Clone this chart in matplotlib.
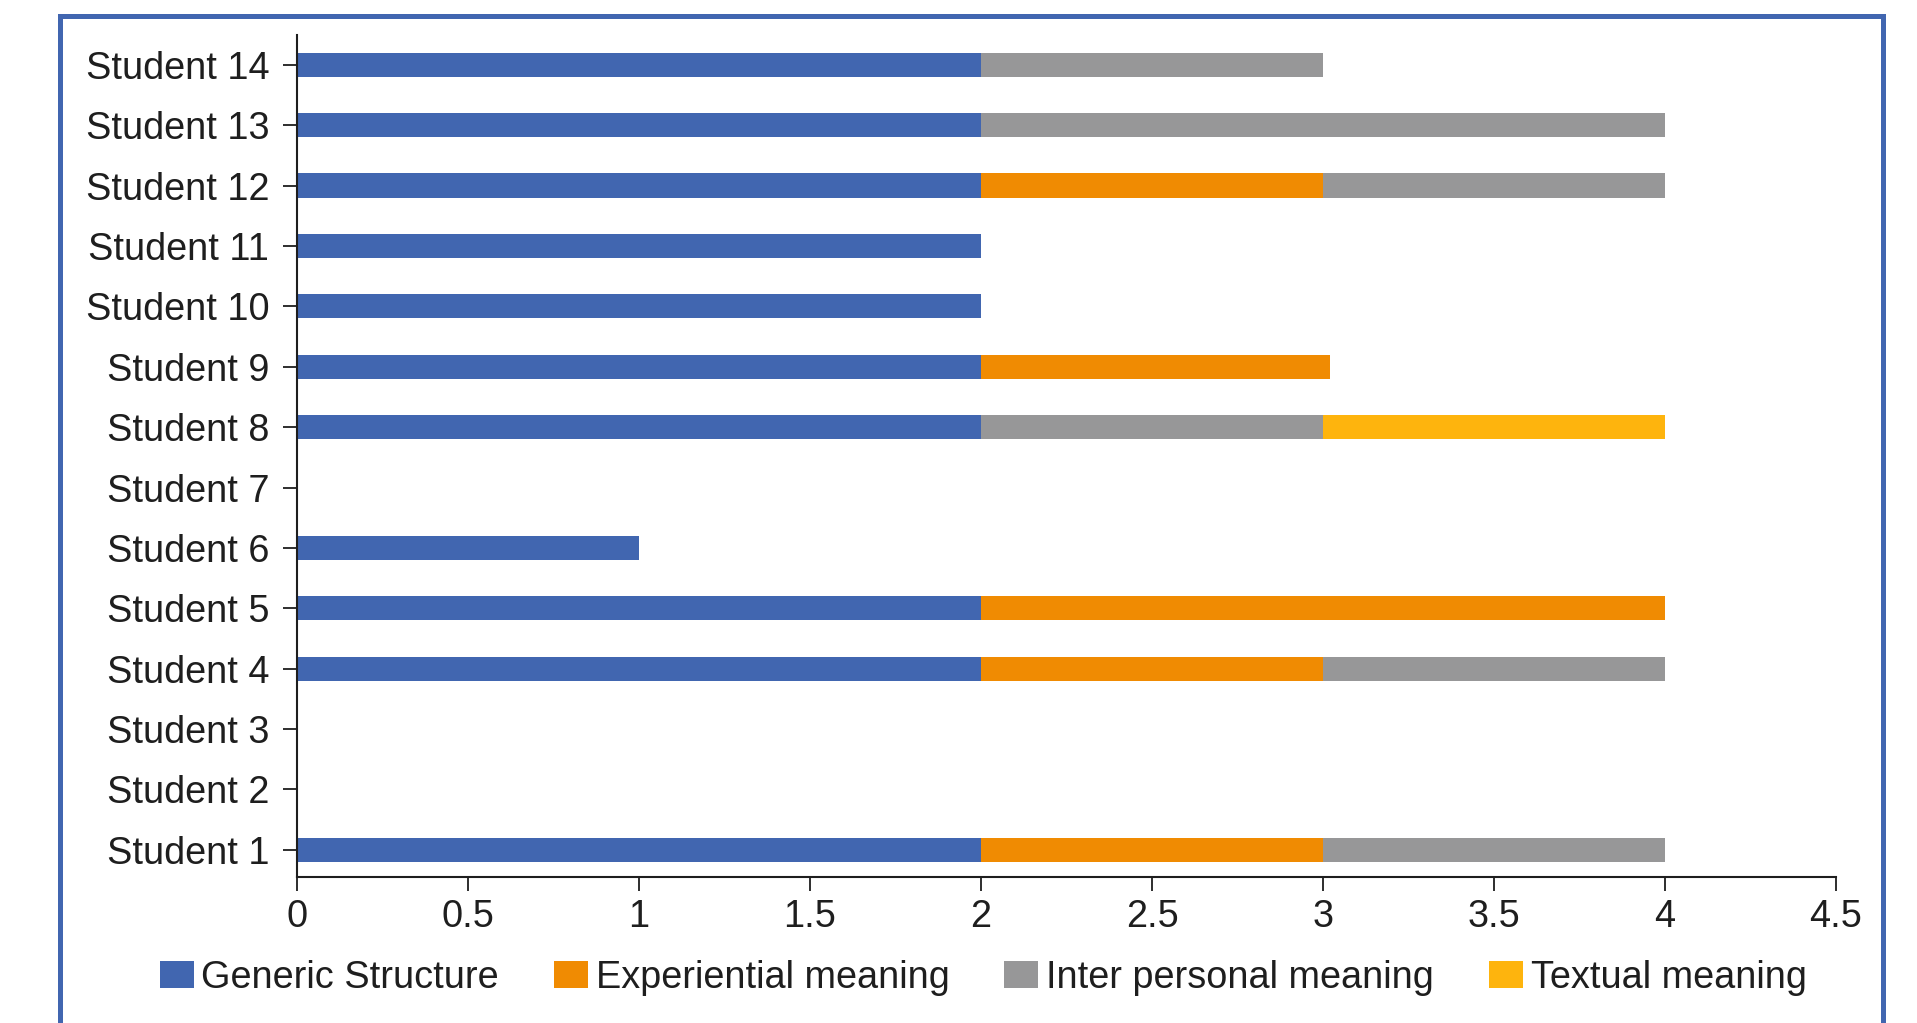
import numpy as np
import matplotlib
matplotlib.use("Agg")
import matplotlib.pyplot as plt
from matplotlib.patches import Rectangle

plt.rcParams['font.family'] = ['Liberation Sans', 'DejaVu Sans']

# data (Student 1 .. Student 14)
students = [f"Student {i}" for i in range(1, 15)]
generic = [2, 0, 0, 2, 2, 1, 0, 2, 2, 2, 2, 2, 2, 2]
experiential = [1, 0, 0, 1, 2, 0, 0, 0, 1.02, 0, 0, 1, 0, 0]
interpersonal = [1, 0, 0, 1, 0, 0, 0, 1, 0, 0, 0, 1, 2, 1]
textual = [0, 0, 0, 0, 0, 0, 0, 1, 0, 0, 0, 0, 0, 0]

series_names = ["Generic Structure", "Experiential meaning",
                "Inter personal meaning", "Textual meaning"]
colors = ['#4166b0', '#f08b02', '#979798', '#feb40d']

W, H = 1917, 1023
fig = plt.figure(figsize=(W / 100, H / 100), dpi=100)

# axes placement in pixels
left, right, top, bottom = 297, 1836, 34.6, 877
ax = fig.add_axes([left / W, 1 - bottom / H, (right - left) / W, (bottom - top) / H])

y = np.arange(len(students))
base = np.zeros(len(students))
for vals, name, c in zip([generic, experiential, interpersonal, textual], series_names, colors):
    vals = np.array(vals, dtype=float)
    ax.barh(y, vals, left=base, height=0.4, color=c, label=name, linewidth=0)
    base += vals

ax.set_ylim(-0.45, 13.5)
ax.set_xlim(0, 4.5)
ax.set_yticks(y)
ax.set_yticklabels(students)
xt = np.arange(0, 4.51, 0.5)
ax.set_xticks(xt)
ax.set_xticklabels([f"{v:g}" for v in xt])

for s in ['top', 'right']:
    ax.spines[s].set_visible(False)
for s in ['left', 'bottom']:
    ax.spines[s].set_linewidth(1.5)
    ax.spines[s].set_color('#1e1e1e')

ax.tick_params(axis='both', labelsize=27.3, length=10, width=1.3, color='#1e1e1e', labelcolor='#1e1e1e')
ax.tick_params(axis='y', pad=10)
ax.tick_params(axis='x', pad=6)

handles, labels = ax.get_legend_handles_labels()
fig.legend(handles, labels, loc='center', bbox_to_anchor=(983 / W, 1 - 978 / H),
           ncol=4, frameon=False, fontsize=27.3, handlelength=0.9, handleheight=0.7,
           handletextpad=0.2, columnspacing=1.45, labelcolor='#1e1e1e')

# blue frame around the figure (runs off the bottom edge)
frame = Rectangle((59.5 / W, -0.05), (1882.5 - 59.5) / W, 1 - 15.5 / H + 0.05,
                  transform=fig.transFigure, fill=False, edgecolor='#4166b0',
                  linewidth=3.6, clip_on=False)
fig.patches.append(frame)

fig.savefig("out.png", dpi=100)
